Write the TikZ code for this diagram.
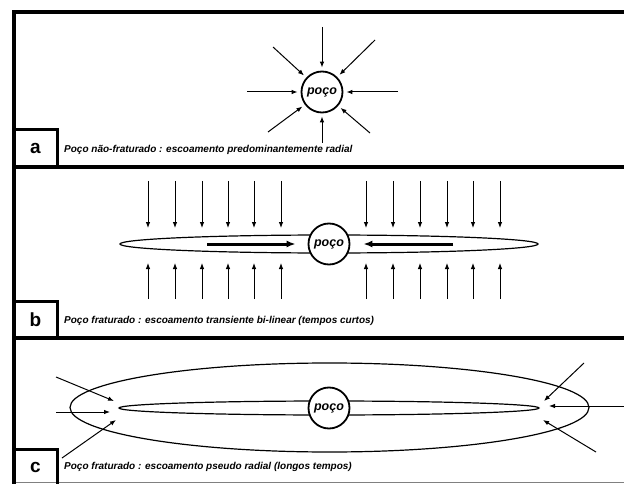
\documentclass[tikz,border=0pt]{standalone}
\usepackage{fontspec}
\setmainfont{Liberation Sans}
\usetikzlibrary{arrows.meta,shapes.geometric}
\tikzset{
  frame/.style={line width=4pt},
  labelbox/.style={draw,line width=3pt,minimum width=43pt,minimum height=37pt,inner sep=0pt,
    font=\fontsize{19}{19}\selectfont\bfseries},
  caption/.style={anchor=west,inner sep=0pt,font=\fontsize{10}{10}\selectfont\bfseries\itshape},
  well/.style={circle,draw,line width=1.8pt,minimum size=41pt,inner sep=0pt,fill=white,
    text height=1.1ex,text depth=0pt,
    font=\fontsize{12.5}{12.5}\selectfont\bfseries\itshape},
  flow/.style={line width=1pt,-{Latex[length=6pt,width=4.6pt]}},
  bigflow/.style={line width=3pt,-{Latex[length=9pt,width=7pt]}},
  frac/.style={ellipse,draw,line width=1.2pt,inner sep=0pt}
}
\begin{document}
\begin{tikzpicture}[x=1pt,y=-1pt]
\useasboundingbox (0,0) rectangle (624,484);
% panel frame and dividers
\draw[frame] (624,12) -- (14,12) -- (14,486);
\draw[frame] (14,167) -- (624,167);
\draw[frame] (14,338) -- (624,338);
\draw[gray,line width=1pt] (14,482.5) -- (624,482.5);

% ---- panel a: radial flow to unfractured well
\node[well] (wa) at (322,92) {poço};
\coordinate (an) at (322,27);
\coordinate (as) at (322,143);
\coordinate (aw) at (247,92);
\coordinate (ae) at (398,92);
\coordinate (anw) at (273,47);
\coordinate (ane) at (375,40);
\coordinate (asw) at (268,132);
\coordinate (ase) at (370,133);
\foreach \p in {an,as,aw,ae,anw,ane,asw,ase}
  \draw[flow,shorten >=3pt] (\p) -- (wa);
\node[labelbox] (la) at (35.5,148.5) {a};
\node[caption] (ca) at (64,150) {Poço não-fraturado : escoamento predominantemente radial};

% ---- panel b: bilinear flow
\node[frac,minimum width=418pt,minimum height=18pt] (fb) at (329,244) {};
\node[well] (wb) at (329,244) {poço};
\foreach \x [count=\i] in {148,175,202,228,254,281,366,393,420,447,473,500}{
  \coordinate (bt\i) at (\x,181);
  \coordinate (btt\i) at (\x,228);
  \coordinate (bb\i) at (\x,299);
  \coordinate (bbt\i) at (\x,263);
  \draw[flow] (bt\i) -- (btt\i);
  \draw[flow] (bb\i) -- (bbt\i);
}
\coordinate (bl) at (207,244);
\coordinate (br) at (453,244);
\draw[bigflow,shorten >=12pt] (bl) -- (wb);
\draw[bigflow,shorten >=13pt] (br) -- (wb);
\node[labelbox] (lb) at (35.5,319.5) {b};
\node[caption] (cb) at (64,321) {Poço fraturado : escoamento transiente bi-linear (tempos curtos)};

% ---- panel c: pseudo-radial flow
\node[frac,minimum width=519pt,minimum height=89pt] (oc) at (329.5,407.5) {};
\node[frac,minimum width=420pt,minimum height=14pt] (fc) at (329,408) {};
\node[well] (wc) at (329,408) {poço};
\coordinate (cul) at (56,377);
\coordinate (cult) at (114,401);
\coordinate (cl) at (56,412);
\coordinate (clt) at (110,412);
\coordinate (cll) at (62,458);
\coordinate (cllt) at (116,420);
\coordinate (cur) at (584,363);
\coordinate (curt) at (544,401);
\coordinate (cr) at (624,406);
\coordinate (crt) at (549,406);
\coordinate (clr) at (596,452);
\coordinate (clrt) at (543,420);
\draw[flow] (cul) -- (cult);
\draw[flow] (cl) -- (clt);
\draw[flow] (cll) -- (cllt);
\draw[flow] (cur) -- (curt);
\draw[flow] (cr) -- (crt);
\draw[flow] (clr) -- (clrt);
\node[labelbox] (lc) at (35.5,467.5) {c};
\node[caption] (cc) at (64,467) {Poço fraturado : escoamento pseudo radial (longos tempos)};
\end{tikzpicture}
\end{document}
